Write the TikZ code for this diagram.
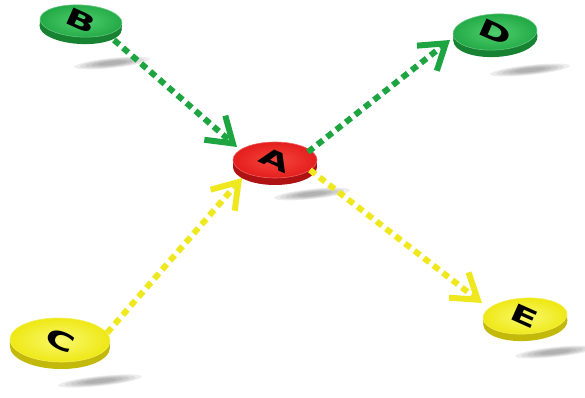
\documentclass[tikz,border=0pt]{standalone}
\usepackage{fontspec}
\setmainfont{DejaVu Sans}
\usetikzlibrary{arrows.meta,shapes.geometric}
\definecolor{gbase}{RGB}{34,170,70}
\definecolor{gdark}{RGB}{22,130,50}
\definecolor{glight}{RGB}{80,205,110}
\definecolor{rbase}{RGB}{228,30,30}
\definecolor{rdark}{RGB}{175,18,18}
\definecolor{rlight}{RGB}{245,70,60}
\definecolor{ybase}{RGB}{238,232,20}
\definecolor{ydark}{RGB}{195,185,10}
\definecolor{ylight}{RGB}{250,248,110}
\definecolor{garrow}{RGB}{30,165,65}
\definecolor{yarrow}{RGB}{240,232,30}
\tikzset{
  conn/.style={line width=6pt, dash pattern=on 7pt off 5pt,
    -{Straight Barb[length=24pt,width=32pt,line width=6pt]}},
  greenconn/.style={conn, draw=garrow},
  yellowconn/.style={conn, draw=yarrow},
  letter/.style={font=\bfseries\fontsize{40}{40}\selectfont, text=black, rotate=-24, yscale=0.6},
  discnode/.style={ellipse, inner sep=0pt}
}
\newcommand\mydisc[9]{% name, pos, rx, ry, base, dark, light, letter, rot
  \begin{scope}[shift={#2}, rotate=#9]
    \fill[#6] (0,7) ellipse ({#3} and {#4});
    \fill[#6] (-#3,0) rectangle (#3,7);
    \shade[inner color=#7, outer color=#5] (0,0) ellipse ({#3} and {#4});
    \draw[#5!70!white, line width=0.6pt] (0,0) ellipse ({#3} and {#4});
  \end{scope}
  \node[discnode, minimum width=2*#3, minimum height=2*#4] (#1) at #2 {};
  \node[letter] (#1l) at #2 {#8};
}
\newcommand\myshadow[3]{% pos, rx, ry
  \begin{scope}[shift={#1}, rotate=6]
    \foreach \k in {1.0,0.85,0.7,0.55,0.4}
      \fill[black, opacity=0.07] (0,0) ellipse ({#2*\k} and {#3*\k});
  \end{scope}
}
\begin{document}
\begin{tikzpicture}[x=1pt,y=-1pt]
\useasboundingbox (0,0) rectangle (585,398);
% shadows
\myshadow{(112,63)}{38}{5}
\myshadow{(312,194)}{38}{5}
\myshadow{(530,70)}{40}{5}
\myshadow{(100,381)}{42}{5}
\myshadow{(555,352)}{40}{5}
% discs
\mydisc{B}{(81,21)}{41}{16}{gbase}{gdark}{glight}{B}{-3}
\mydisc{A}{(275,160)}{42}{18}{rbase}{rdark}{rlight}{A}{0}
\mydisc{D}{(495,32)}{42}{18}{gbase}{gdark}{glight}{D}{3}
\mydisc{C}{(60,340)}{50}{22}{ybase}{ydark}{ylight}{C}{-1}
\mydisc{E}{(525,316)}{42}{18}{ybase}{ydark}{ylight}{E}{3}
% connectors
\draw[greenconn] ([shift={(33,19)}]B.center) -- ([shift={(-38,-13)}]A.center);
\draw[greenconn] ([shift={(33,-8)}]A.center) -- ([shift={(-45,8)}]D.center);
\draw[yellowconn] ([shift={(47,-7)}]C.center) -- ([shift={(-33,18)}]A.center);
\draw[yellowconn] ([shift={(35,10)}]A.center) -- ([shift={(-43,-13)}]E.center);
\end{tikzpicture}
\end{document}
